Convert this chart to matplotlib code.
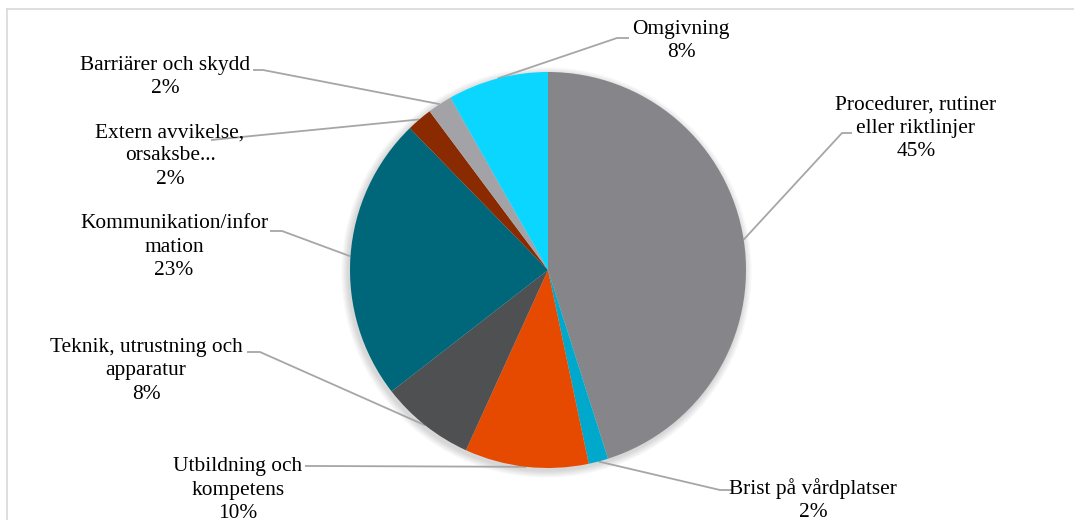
"""
Pie chart of deviation causes (avvikelseorsaker) with leader-line labels.
"""

import matplotlib
matplotlib.use('Agg')

import numpy as np
import matplotlib.pyplot as plt
from matplotlib.patches import Circle

# Data (percent share), clockwise from 12 o'clock
categories = [
    "Procedurer, rutiner\neller riktlinjer",
    "Brist på vårdplatser",
    "Utbildning och\nkompetens",
    "Teknik, utrustning och\napparatur",
    "Kommunikation/infor\nmation",
    "Extern avvikelse,\norsaksbe...",
    "Barriärer och skydd",
    "Omgivning",
]
shares = [45.1, 1.6, 10.1, 7.7, 23.2, 2.1, 2.0, 8.2]
colors = ["#86868a", "#00a9cb", "#e64a00", "#4f5052",
          "#00667a", "#8a2a00", "#a3a3a7", "#0bd6ff"]

# Layout in pixel coordinates (y measured from the top of the image)
W, H = 1074, 520
CENTER = (548, 270)
RADIUS = 198
# text block centres
label_xy = [(916, 128), (813, 500), (238, 490), (146, 371),
            (174, 247), (170, 156), (165, 77), (681, 41)]
# start of the leader line (label side), and its short horizontal stub end
leader_start = [(852, 133), (732, 490), (305, 466), (247, 352),
                (270, 231), (211, 140), (253, 70), (629, 38)]
leader_stub = [(842, 133), (720, 490), (318, 466), (260, 352),
               (282, 231), (211, 140), (263, 70), (617, 38)]

LINE_COLOR = "#a6a6a6"
FONT = ["Liberation Serif", "DejaVu Serif"]


def fy(y):
    """Image y (top-down) to axes y (bottom-up)."""
    return H - y


fig = plt.figure(figsize=(W / 100, H / 100), dpi=100)
ax = fig.add_axes([0, 0, 1, 1])
ax.set_xlim(0, W)
ax.set_ylim(0, H)
ax.set_aspect("equal")
ax.axis("off")

# chart frame (only top and left edges are visible)
ax.plot([7, W], [fy(9), fy(9)], color="#d9d9d9", lw=1.2)
ax.plot([7, 7], [fy(9), 0], color="#d9d9d9", lw=1.2)

cx, cy = CENTER[0], fy(CENTER[1])

# soft shadow behind the pie
for k in range(8):
    ax.add_patch(Circle((cx - 1.5, cy - 2.5), RADIUS + 1 + k * 0.9,
                        facecolor="black", edgecolor="none",
                        alpha=0.018, zorder=1))

wedges, _ = ax.pie(
    shares,
    colors=colors,
    startangle=90,
    counterclock=False,
    center=(cx, cy),
    radius=RADIUS,
    wedgeprops=dict(linewidth=0),
    frame=True,
)
for w in wedges:
    w.set_zorder(2)
ax.set_xlim(0, W)
ax.set_ylim(0, H)
ax.axis("off")

total = sum(shares)
for i, w in enumerate(wedges):
    mid = np.deg2rad((w.theta1 + w.theta2) / 2)
    ex = cx + RADIUS * np.cos(mid)
    ey = cy + RADIUS * np.sin(mid)
    sx, sy = leader_start[i]
    tx, ty = leader_stub[i]
    ax.plot([sx, tx, ex], [fy(sy), fy(ty), ey],
            color=LINE_COLOR, lw=1.3, zorder=1.5, solid_capstyle="butt")

    pct = f"{shares[i] / total * 100:.0f}%"
    lx, ly = label_xy[i]
    ax.text(lx, fy(ly), f"{categories[i]}\n{pct}",
            ha="center", va="center", multialignment="center",
            fontsize=15.4, family=FONT, color="#000000",
            linespacing=1.3, zorder=3)

fig.savefig("out.png", dpi=100)
plt.close(fig)
